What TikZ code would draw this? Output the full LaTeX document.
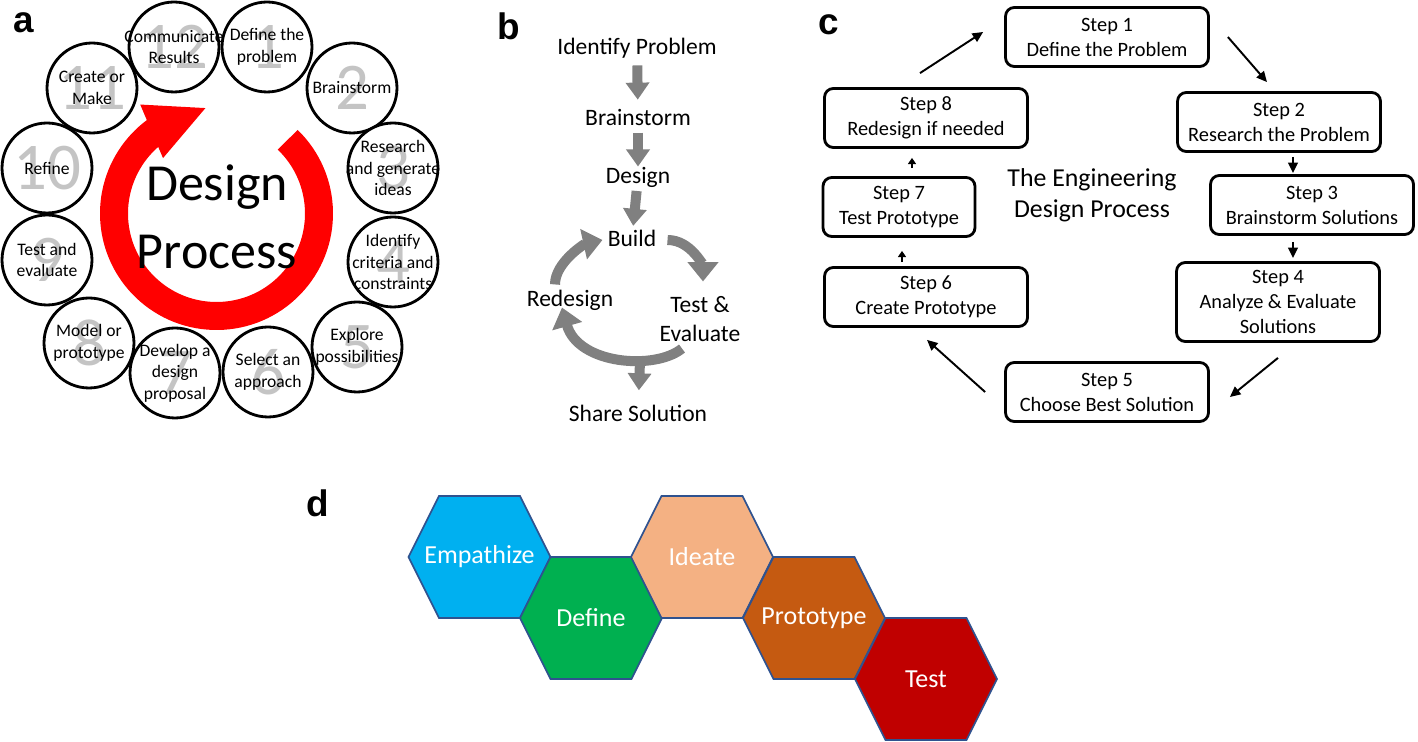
\documentclass[tikz,border=0pt]{standalone}
\usepackage{fontspec}
\setmainfont{Carlito}
\newfontfamily\panelfont{Liberation Sans}
\usetikzlibrary{arrows.meta,calc}

\definecolor{ringred}{RGB}{255,0,0}
\definecolor{numgray}{RGB}{196,196,196}
\definecolor{flowgray}{RGB}{128,128,128}
\definecolor{hexedge}{RGB}{47,82,143}
\definecolor{empcol}{RGB}{0,176,240}
\definecolor{defcol}{RGB}{0,176,80}
\definecolor{idecol}{RGB}{244,177,131}
\definecolor{procol}{RGB}{197,90,17}
\definecolor{tescol}{RGB}{192,0,0}

\tikzset{
  panel/.style={font=\panelfont\bfseries\fontsize{21}{21}\selectfont, anchor=base west, inner sep=0pt},
  stage/.style={circle, draw, line width=1.6pt, fill=white, minimum size=1.8cm, inner sep=0pt},
  stagenum/.style={font=\fontsize{38}{38}\selectfont, text=numgray, inner sep=0pt},
  stagetext/.style={font=\fontsize{10}{12.2}\selectfont, align=center, inner sep=0pt},
  flowtext/.style={font=\fontsize{13.4}{16}\selectfont, align=center, inner sep=0pt},
  blockarrow/.style={draw=flowgray, line width=5.7pt, -{Triangle[length=9.7pt,width=13pt]}},
  cyclearrow/.style={draw=flowgray, line width=5.7pt, -{Triangle[length=11pt,width=17pt]}},
  stepbox/.style={draw, rounded corners=5pt, line width=1.6pt, minimum width=4.06cm, minimum height=1.18cm, inner sep=0pt, align=center, font=\fontsize{11.6}{14.2}\selectfont},
  steparrow/.style={line width=1.1pt, -{Triangle[length=6pt,width=5.5pt]}},
  shortarrow/.style={line width=1.1pt, -{Triangle[length=3.5pt,width=4.5pt]}},
  hexa/.style={draw=hexedge, line width=0.9pt},
  hexlabel/.style={text=white, font=\fontsize{14.8}{14.8}\selectfont, inner sep=0pt}
}

\begin{document}
\begin{tikzpicture}[x=0.02cm, y=-0.02cm]
\useasboundingbox (0,0) rectangle (1418,742);

% a
\node[panel] (la) at (13,33) {a};
\coordinate (hub) at (216.5,213.5);
\draw[draw=ringred, line width=0.56cm] ([shift={(-46:102.5)}]hub) arc[start angle=-46, end angle=236, radius=102.5];
\fill[ringred] ($(hub)+(235:133)$) -- ($(hub)+(264:106)$) -- ($(hub)+(226:77)$) -- cycle;
\node[font=\fontsize{29.6}{38.7}\selectfont, align=center, inner sep=0pt] (dp) at (217,217) {Design\\Process};
\foreach \k/\x/\y/\txt in {12/174/47/{Communicate\\Results}, 1/267/47/{Define the\\problem},
  2/352/88/{Brainstorm}, 3/393/168/{Research\\and generate\\ideas},
  4/393/262/{Identify\\criteria and\\constraints}, 5/357/347/{Explore\\possibilities},
  6/268/372/{Select an\\approach}, 7/175/373/{Develop a\\design\\proposal},
  8/89/343/{Model or\\prototype}, 9/47/260/{Test and\\evaluate},
  10/47/168/{Refine}, 11/92/88/{Create or\\Make}} {
  \node[stage] (c\k) at (\x,\y) {};
  \node[stagenum] (n\k) at (c\k) {\k};
  \node[stagetext] (t\k) at (c\k) {\txt};
}

% b
\node[panel] (lb) at (497,40) {b};
\node[flowtext] (ip) at (637,48) {Identify Problem};
\node[flowtext] (bs) at (638,117) {Brainstorm};
\node[flowtext] (ds) at (638,177) {Design};
\node[flowtext] (bd) at (632,238) {Build};
\node[flowtext] (te) at (700,319) {Test \&\\Evaluate};
\node[flowtext] (rd) at (570,300) {Redesign};
\node[flowtext] (ss) at (638,413) {Share Solution};
\draw[blockarrow, shorten <=4pt, shorten >=5pt] (ip) -- (bs);
\draw[blockarrow, shorten <=4pt, shorten >=0pt] (bs) -- (ds);
\draw[blockarrow, shorten <=2pt, shorten >=2pt] (ds) -- (bd);
\draw[cyclearrow] ([shift={(11,2)}]bd.east) .. controls +(24,0) and +(0,-14) .. ([shift={(3,-15)}]te.north);
\draw[cyclearrow] ([shift={(-15,-5)}]rd.north) .. controls +(0,-22) and +(-18,4) .. ([shift={(-5,2)}]bd.west);
\draw[cyclearrow] ([shift={(-18,7)}]te.south) .. controls +(-27,22) and +(16,57) .. ([shift={(-8,-3)}]rd.south) coordinate[pos=0.35] (arcbot);
\draw[blockarrow, shorten >=8pt] (arcbot) -- (ss);

% c
\node[panel] (lc) at (818,35) {c};
\node[stepbox] (s1) at (1107,37) {Step 1\\Define the Problem};
\node[stepbox] (s2) at (1279,122) {Step 2\\Research the Problem};
\node[stepbox] (s3) at (1312,205) {Step 3\\Brainstorm Solutions};
\node[stepbox, minimum height=1.58cm] (s4) at (1278,302) {Step 4\\Analyze \& Evaluate\\Solutions};
\node[stepbox] (s5) at (1107,392) {Step 5\\Choose Best Solution};
\node[stepbox] (s6) at (926,297) {Step 6\\Create Prototype};
\node[stepbox, minimum width=3.04cm] (s7) at (899,207) {Step 7\\Test Prototype};
\node[stepbox] (s8) at (926,118) {Step 8\\Redesign if needed};
\node[font=\fontsize{14.7}{17.6}\selectfont, align=center, inner sep=0pt] (title) at (1092,195) {The Engineering\\Design Process};
\draw[steparrow] ([shift={(-6,-14)}]s8.north) -- ([shift={(-21,-5)}]s1.west);
\draw[steparrow] ([shift={(18,0)}]s1.east) -- ([shift={(-12,-9)}]s2.north);
\draw[steparrow] ([shift={(14,4)}]s2.south) -- ([shift={(-19,-1)}]s3.north);
\draw[steparrow] ([shift={(-19,6)}]s3.south) -- ([shift={(15,-3)}]s4.north);
\draw[steparrow] ([shift={(0,15)}]s4.south) -- ([shift={(20,5)}]s5.east);
\draw[steparrow] ([shift={(-19,0)}]s5.west) -- ([shift={(1,12)}]s6.south);
\draw[shortarrow] ([shift={(-24,-4)}]s6.north) -- ([shift={(3,13)}]s7.south);
\draw[shortarrow] ([shift={(13,-8)}]s7.north) -- ([shift={(-14,9)}]s8.south);

% d
\node[panel] (ld) at (306,517) {d};
\foreach \nm/\cx/\cy/\col/\txt in {emp/479.5/557/empcol/Empathize, def/591/618/defcol/Define,
  ide/702/557/idecol/Ideate, pro/814/618/procol/Prototype, tes/926/679/tescol/Test} {
  \filldraw[hexa, fill=\col] (\cx-71,\cy) -- (\cx-40.5,\cy-61) -- (\cx+40.5,\cy-61) -- (\cx+71,\cy) -- (\cx+40.5,\cy+61) -- (\cx-40.5,\cy+61) -- cycle;
  \node[hexlabel] (\nm) at (\cx,\cy) {\txt};
}
\end{tikzpicture}
\end{document}
